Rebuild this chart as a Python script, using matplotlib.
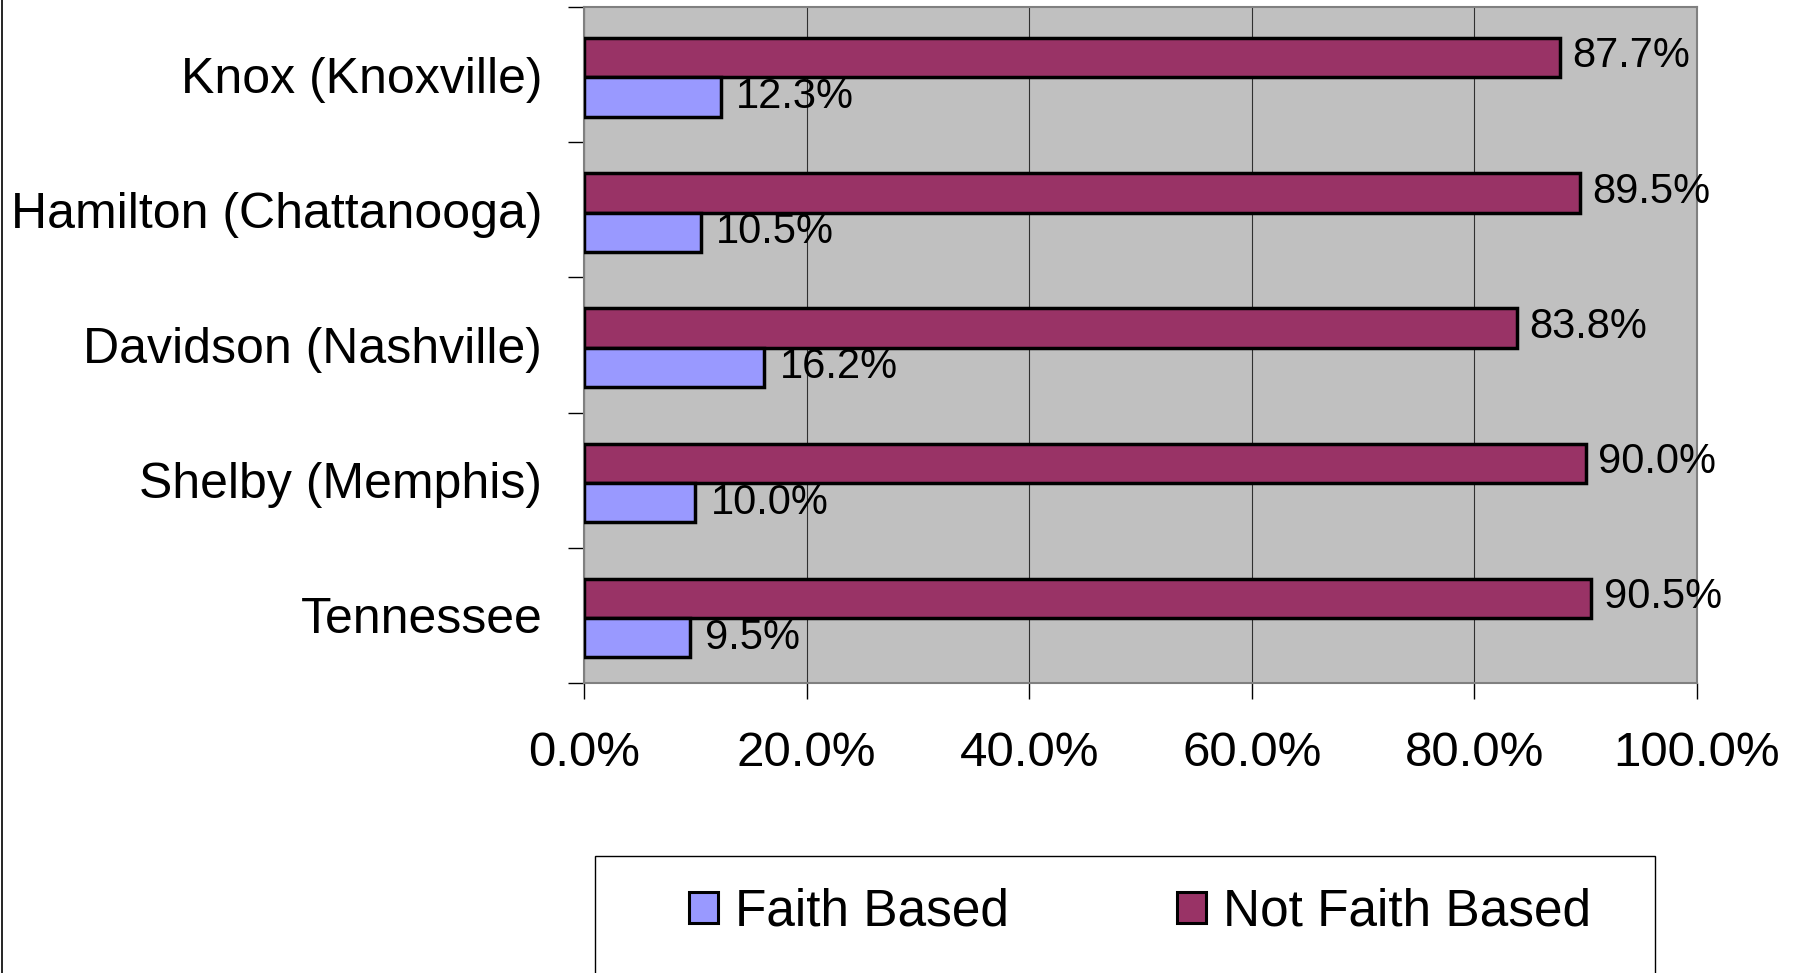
import matplotlib
matplotlib.use("Agg")
import matplotlib.pyplot as plt
from matplotlib.patches import Patch, Rectangle
from matplotlib.lines import Line2D
import numpy as np

plt.rcParams['font.family'] = ['Liberation Sans', 'DejaVu Sans']

# data, top to bottom as shown
counties = ["Knox (Knoxville)", "Hamilton (Chattanooga)", "Davidson (Nashville)",
            "Shelby (Memphis)", "Tennessee"]
faith_based = [12.3, 10.5, 16.2, 10.0, 9.5]
not_faith_based = [87.7, 89.5, 83.8, 90.0, 90.5]
x_ticks = [0, 20, 40, 60, 80, 100]

faith_color = "#9999FF"
not_faith_color = "#993366"

W, H = 1794, 973
fig = plt.figure(figsize=(W / 100, H / 100), dpi=100)
ax = fig.add_axes([584 / W, 1 - 683 / H, (1697 - 584) / W, (683 - 7) / H])
ax.set_facecolor("#C0C0C0")

y = np.arange(len(counties))
h = 0.29
ax.barh(y - h / 2 + 0.02, not_faith_based, height=h, color=not_faith_color,
        edgecolor="black", linewidth=2.5, zorder=3)
ax.barh(y + h / 2 + 0.02, faith_based, height=h, color=faith_color,
        edgecolor="black", linewidth=2.5, zorder=3)

for i in range(len(counties)):
    ax.annotate(f"{not_faith_based[i]:.1f}%", (not_faith_based[i], y[i] - h / 2 + 0.02),
                xytext=(9, 1), textcoords="offset points", va="center", ha="left",
                fontsize=30, zorder=4)
    ax.annotate(f"{faith_based[i]:.1f}%", (faith_based[i], y[i] + h / 2 + 0.02),
                xytext=(11, 0), textcoords="offset points", va="center", ha="left",
                fontsize=30, zorder=4)

ax.set_xlim(0, 100)
ax.set_ylim(len(counties) - 0.5, -0.5)

ax.set_xticks(x_ticks)
ax.set_xticklabels([f"{t:.1f}%" for t in x_ticks], fontsize=35.5)
ax.tick_params(axis="x", direction="out", length=11.5, width=1, pad=23)
ax.grid(axis="x", color="#303030", linewidth=0.8, zorder=1)

ax.set_yticks(np.arange(len(counties) + 1) - 0.5)
ax.set_yticklabels([])
ax.set_yticks(y, minor=True)
ax.set_yticklabels(counties, minor=True, fontsize=36)
ax.tick_params(axis="y", which="major", direction="out", length=11.5, width=1)
ax.tick_params(axis="y", which="minor", length=0, pad=30)

for s in ax.spines.values():
    s.set_color("#808080")
    s.set_linewidth(1.5)

# legend
handles = [Patch(facecolor=faith_color, edgecolor="black", linewidth=2.2),
           Patch(facecolor=not_faith_color, edgecolor="black", linewidth=2.2)]
fig.legend(handles, ["Faith Based", "Not Faith Based"], loc="center",
           bbox_to_anchor=(1140 / W, 1 - 912 / H), ncol=2, frameon=False,
           fontsize=37, handlelength=0.56, handleheight=0.56, handletextpad=0.33,
           columnspacing=3.27)
fig.patches.append(Rectangle((595 / W, -0.05), (1655 - 595) / W, 0.05 + (973 - 856) / H,
                             transform=fig.transFigure, fill=False,
                             edgecolor="black", linewidth=1))
fig.lines.append(Line2D([2 / W, 2 / W], [0, 1], transform=fig.transFigure,
                        color="black", linewidth=1.2))

fig.savefig("out.png", dpi=100)
